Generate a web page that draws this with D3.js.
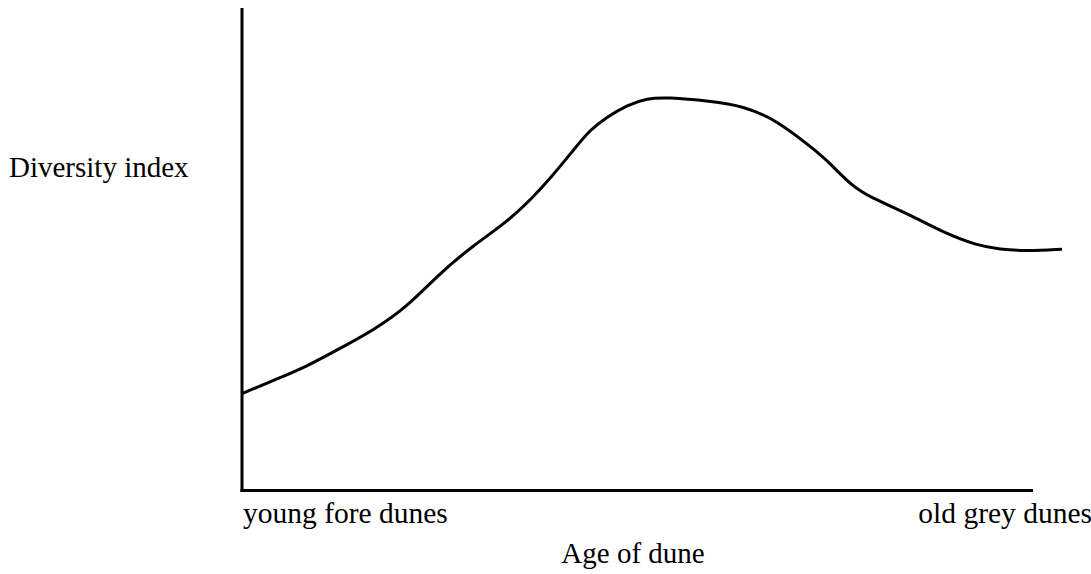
<!DOCTYPE html>
<html>
<head>
<meta charset="utf-8">
<script src="https://cdn.jsdelivr.net/npm/d3@7/dist/d3.min.js"></script>
<style>
  html, body { margin: 0; padding: 0; background: #fff; }
  svg { display: block; }
  text { font-family: "Liberation Serif", "DejaVu Serif", serif; fill: #000; }
</style>
</head>
<body>
<svg id="chart" width="1091" height="574"></svg>
<script>
// Data: dune age (0 = young fore dunes, 100 = old grey dunes) vs diversity index (relative units)
const age = [0, 3.8, 7.9, 12.0, 16.0, 20.1, 24.1, 28.2, 32.3, 35.5, 37.6, 40.4, 42.4, 44.5, 47.0, 49.4, 51.8, 57.1, 61.1, 65.2, 69.9, 71.3, 74.5, 76.6, 81.5, 85.5, 89.6, 92.4, 95.7, 100];
const diversity = [20.1, 22.8, 25.7, 29.5, 33.2, 38.0, 45.0, 50.8, 55.6, 60.8, 64.7, 70.5, 74.7, 77.4, 79.9, 81.3, 81.5, 80.7, 79.7, 76.8, 70.5, 68.5, 62.9, 60.8, 57.1, 53.5, 50.8, 50.0, 49.6, 50.0];
const xEndLabels = ["young fore dunes", "old grey dunes"];
const xTitle = "Age of dune";
const yTitle = "Diversity index";

const svg = d3.select("#chart");
const x = d3.scaleLinear().domain([0, 100]).range([242, 1062]);
const y = d3.scaleLinear().domain([0, 100]).range([490.5, 8]);

// axes
svg.append("line")
  .attr("x1", x(0)).attr("x2", x(0))
  .attr("y1", y(100)).attr("y2", y(0) + 1.5)
  .attr("stroke", "#000").attr("stroke-width", 3);
svg.append("line")
  .attr("x1", x(0) - 1.5).attr("x2", 1033)
  .attr("y1", y(0)).attr("y2", y(0))
  .attr("stroke", "#000").attr("stroke-width", 3);

// curve
const pts = age.map((a, i) => [a, diversity[i]]);
svg.append("path")
  .datum(pts)
  .attr("fill", "none")
  .attr("stroke", "#000")
  .attr("stroke-width", 3)
  .attr("stroke-linejoin", "round")
  .attr("d", d3.line().x(d => x(d[0])).y(d => y(d[1])).curve(d3.curveBasis));

// labels
svg.append("text").attr("x", 9).attr("y", 177).attr("font-size", 29).text(yTitle);
svg.append("text").attr("x", 243).attr("y", 523).attr("font-size", 29.5).text(xEndLabels[0]);
svg.append("text").attr("x", 1092).attr("y", 523).attr("font-size", 29.5).attr("text-anchor", "end").text(xEndLabels[1]);
svg.append("text").attr("x", 633).attr("y", 563).attr("font-size", 29).attr("text-anchor", "middle").text(xTitle);
</script>
</body>
</html>
